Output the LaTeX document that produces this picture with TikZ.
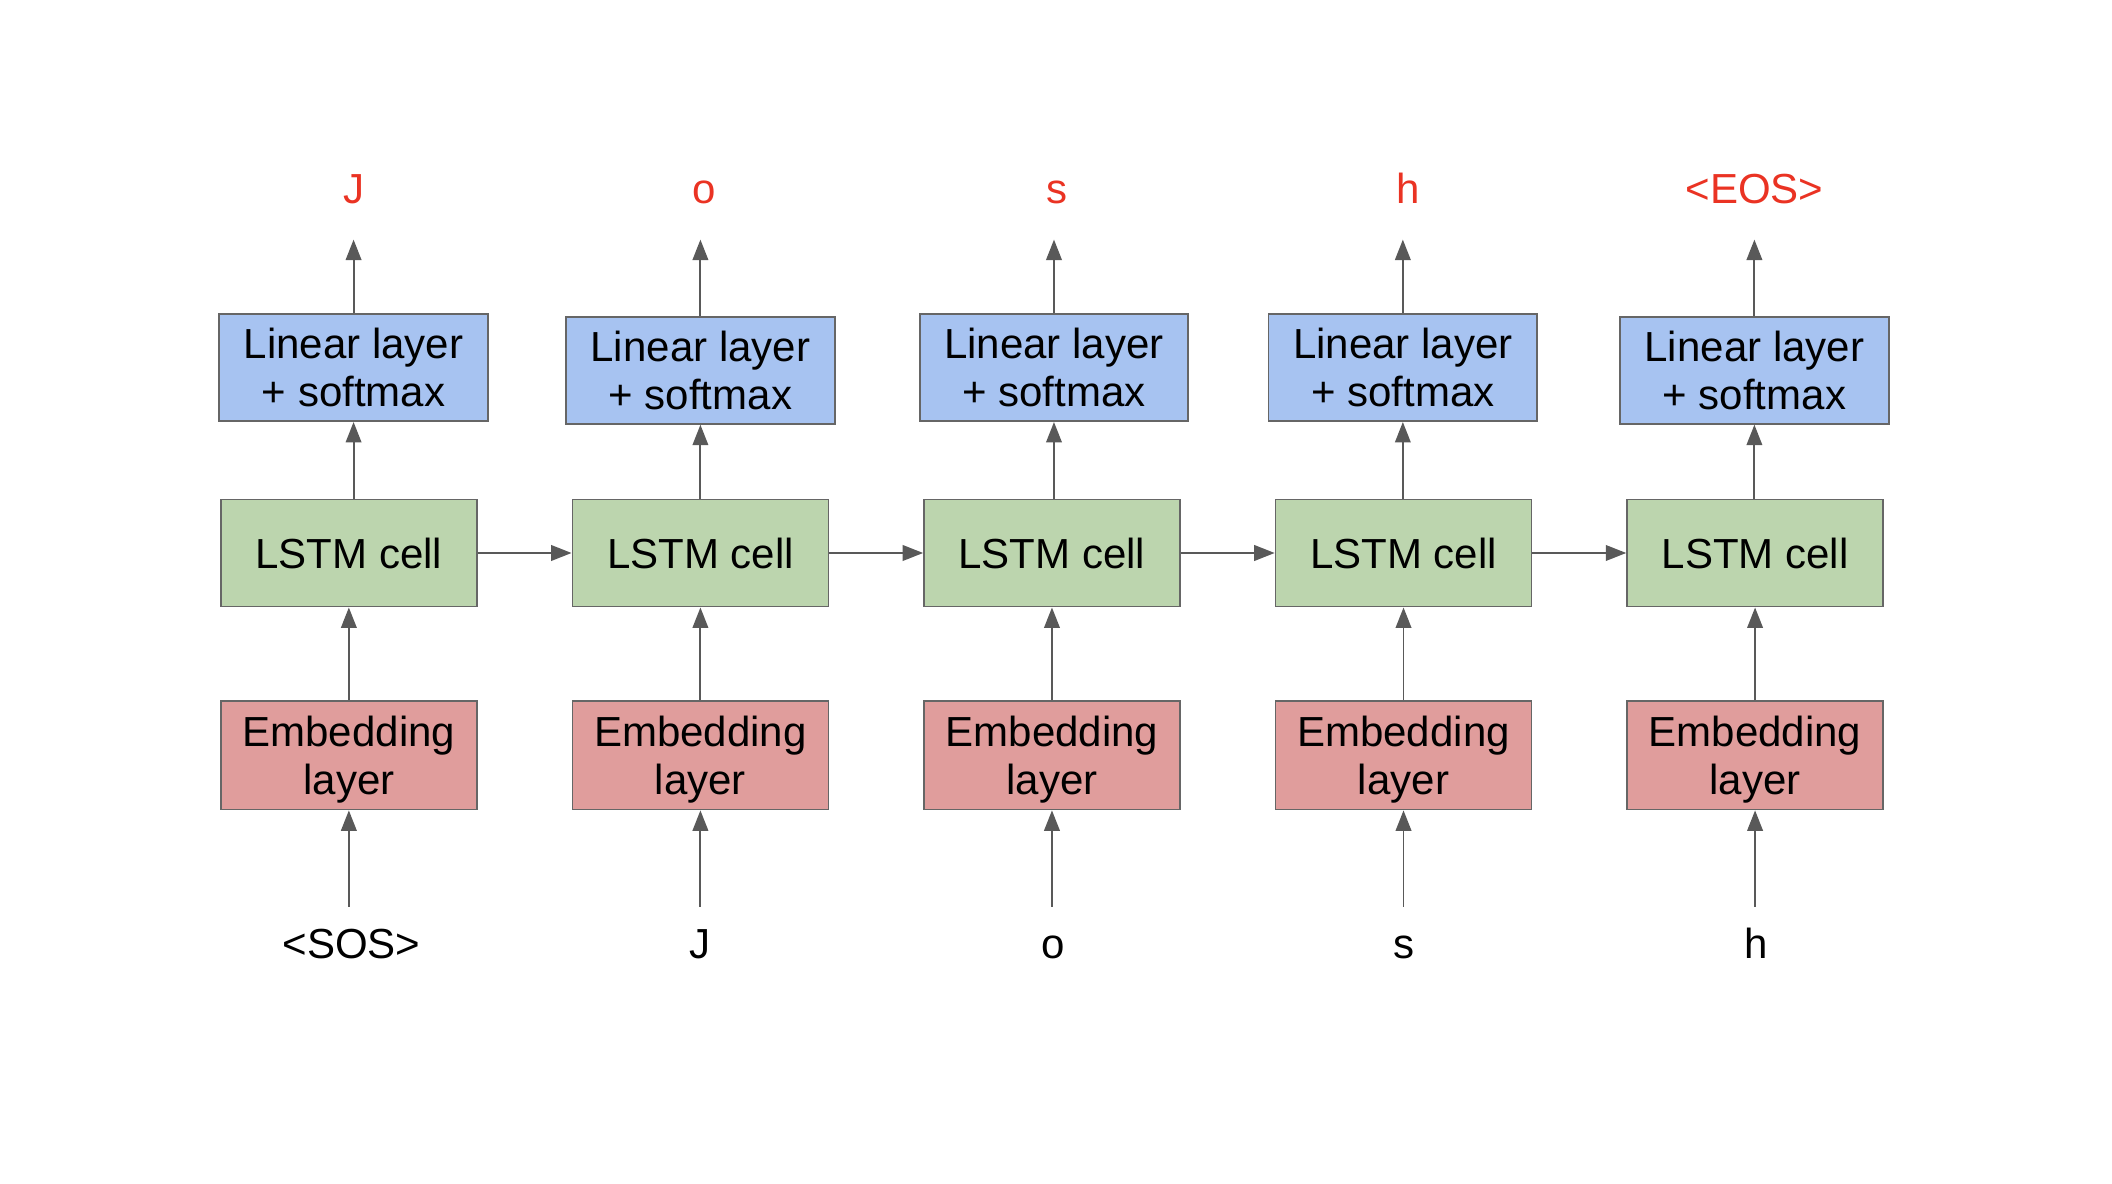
\documentclass[tikz,border=0pt]{standalone}
\usepackage{fontspec}
\setmainfont{Liberation Sans}
\usetikzlibrary{arrows.meta}
\definecolor{linfill}{HTML}{A7C3F1}
\definecolor{lstmfill}{HTML}{BCD5AE}
\definecolor{embfill}{HTML}{E09D9C}
\definecolor{edge}{HTML}{666666}
\definecolor{arrowc}{HTML}{595959}
\definecolor{outred}{HTML}{EA3323}
\begin{document}
\begin{tikzpicture}[x=0.5pt,y=-0.5025pt,
  box/.style={draw=edge, line width=0.65pt, rectangle, inner sep=0pt, align=center,
    font=\fontsize{15.6pt}{17.9pt}\selectfont},
  linbox/.style={box, fill=linfill, minimum width=99.75pt, minimum height=39.8pt, text depth=-2.3pt},
  lstmbox/.style={box, fill=lstmfill, minimum width=95pt, minimum height=39.8pt},
  embbox/.style={box, fill=embfill, minimum width=95pt, minimum height=40.2pt, text depth=-0.7pt},
  outlabel/.style={anchor=base, text=outred, inner sep=0pt, font=\fontsize{15.6pt}{17.9pt}\selectfont},
  inlabel/.style={anchor=base, text=black, inner sep=0pt, font=\fontsize{15.6pt}{17.9pt}\selectfont},
  arr/.style={draw=arrowc, line width=0.7pt, -{Triangle[length=7.6pt, width=5.8pt]}, arrowc}
]
\useasboundingbox (0,0) rectangle (1568,874.6);

% Linear layers
\node[linbox] (L1) at (262.5,271.5) {Linear layer\\+ softmax};
\node[linbox] (L2) at (520,273.5) {Linear layer\\+ softmax};
\node[linbox] (L3) at (782.5,271.5) {Linear layer\\+ softmax};
\node[linbox] (L4) at (1041.5,271.5) {Linear layer\\+ softmax};
\node[linbox] (L5) at (1302.5,273.5) {Linear layer\\+ softmax};

% LSTM cells
\node[lstmbox] (S1) at (259,408.5) {LSTM cell};
\node[lstmbox] (S2) at (520,408.5) {LSTM cell};
\node[lstmbox] (S3) at (781,408.5) {LSTM cell};
\node[lstmbox] (S4) at (1042,408.5) {LSTM cell};
\node[lstmbox] (S5) at (1303,408.5) {LSTM cell};

% Embedding layers
\node[embbox] (E1) at (259,558) {Embedding\\layer};
\node[embbox] (E2) at (520,558) {Embedding\\layer};
\node[embbox] (E3) at (781,558) {Embedding\\layer};
\node[embbox] (E4) at (1042,558) {Embedding\\layer};
\node[embbox] (E5) at (1303,558) {Embedding\\layer};

% Output labels
\node[outlabel] (O1) at (262.5,150) {J};
\node[outlabel] (O2) at (523,150) {o};
\node[outlabel] (O3) at (784.5,150) {s};
\node[outlabel] (O4) at (1045.5,150) {h};
\node[outlabel] (O5) at (1302.5,150) {<EOS>};

% Input labels
\node[inlabel] (I1) at (261,708) {<SOS>};
\node[inlabel] (I2) at (520,708) {J};
\node[inlabel] (I3) at (782,708) {o};
\node[inlabel] (I4) at (1042,708) {s};
\node[inlabel] (I5) at (1304,708) {h};

% Free arrow ends
\coordinate (t1) at (262.5,177);
\coordinate (t2) at (520,177);
\coordinate (t3) at (782.5,177);
\coordinate (t4) at (1041.5,177);
\coordinate (t5) at (1302.5,177);
\coordinate (b1) at (259,670);
\coordinate (b2) at (520,670);
\coordinate (b3) at (781,670);
\coordinate (b4) at (1042,670);
\coordinate (b5) at (1303,670);

% Arrows
\foreach \i in {1,...,5}{
  \draw[arr] (L\i.north) -- (t\i);
  \draw[arr] (L\i.south |- S\i.north) -- (L\i.south);
  \draw[arr] (E\i.north) -- (S\i.south);
  \draw[arr] (b\i) -- (E\i.south);
}
\draw[arr] (S1.east) -- (S2.west);
\draw[arr] (S2.east) -- (S3.west);
\draw[arr] (S3.east) -- (S4.west);
\draw[arr] (S4.east) -- (S5.west);
\end{tikzpicture}
\end{document}
